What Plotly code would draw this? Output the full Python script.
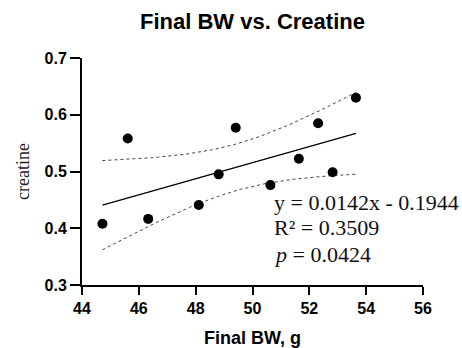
import numpy as np
import plotly.graph_objects as go

# Data
final_bw = [44.72, 45.61, 46.33, 48.11, 48.81, 49.41, 50.63, 51.63, 52.31, 52.82, 53.64]
creatine = [0.408, 0.558, 0.4165, 0.441, 0.495, 0.577, 0.476, 0.5225, 0.585, 0.4986, 0.630]
slope = 0.0142
intercept = -0.1944
r_squared = 0.3509
p_value = 0.0424
t_crit = 2.262  # 95% two-sided, df = 9
x_ticks = [44, 46, 48, 50, 52, 54, 56]
y_ticks = [0.3, 0.4, 0.5, 0.6, 0.7]

x = np.array(final_bw)
y = np.array(creatine)
n = len(x)
xs = np.linspace(x.min(), x.max(), 100)
fit = slope * xs + intercept
resid = y - (slope * x + intercept)
s = np.sqrt(np.sum(resid ** 2) / (n - 2))
sxx = np.sum((x - x.mean()) ** 2)
half = t_crit * s * np.sqrt(1 / n + (xs - x.mean()) ** 2 / sxx)

fig = go.Figure()
fig.add_trace(go.Scatter(x=xs, y=fit + half, mode="lines",
                         line=dict(color="#444444", width=1, dash="dot"), hoverinfo="skip"))
fig.add_trace(go.Scatter(x=xs, y=fit - half, mode="lines",
                         line=dict(color="#444444", width=1, dash="dot"), hoverinfo="skip"))
fig.add_trace(go.Scatter(x=xs, y=fit, mode="lines",
                         line=dict(color="black", width=1.3)))
fig.add_trace(go.Scatter(x=final_bw, y=creatine, mode="markers",
                         marker=dict(color="black", size=10)))

serif = "Liberation Serif, Times New Roman, serif"
sans = "Liberation Sans, Arial, sans-serif"

lines = [
    (f"y = {slope}x - {abs(intercept)}", 0.4455),
    (f"R² = {r_squared}", 0.4007),
    (f"<i>p</i> = {p_value}", 0.3545),
]
for txt, yy in lines:
    fig.add_annotation(x=50.70, y=yy, xref="x", yref="y", text=txt, showarrow=False,
                       xanchor="left", yanchor="middle",
                       font=dict(family=serif, size=22, color="#111111"))

fig.update_layout(
    width=462, height=348,
    margin=dict(l=82, r=39, t=58, b=63),
    paper_bgcolor="white", plot_bgcolor="white",
    showlegend=False,
    title=dict(text="Final BW vs. Creatine", x=0.5, xref="paper", xanchor="center",
               y=1 - 21 / 348, yanchor="middle",
               font=dict(family=sans, size=22, color="black", weight="bold")),
    xaxis=dict(range=[44, 56], tickvals=x_ticks, ticktext=[str(v) for v in x_ticks],
               showline=True, linecolor="black", linewidth=2, mirror=False,
               ticks="outside", ticklen=8, tickwidth=2, tickcolor="black",
               showgrid=False, zeroline=False, automargin=False,
               tickfont=dict(family=sans, size=16, color="black", weight="bold"),
               title=dict(text="Final BW, g", standoff=16,
                          font=dict(family=sans, size=18, color="black", weight="bold"))),
    yaxis=dict(range=[0.3, 0.7], tickvals=y_ticks, ticktext=[f"{v:.1f}" for v in y_ticks],
               showline=True, linecolor="black", linewidth=2, mirror=False,
               ticks="outside", ticklen=10, tickwidth=2, tickcolor="black",
               showgrid=False, zeroline=False, automargin=False,
               tickfont=dict(family=sans, size=16, color="black", weight="bold"),
               title=dict(text="creatine", standoff=10,
                          font=dict(family=serif, size=18, color="#222222"))),
)

fig.write_html("out.html", config={"displayModeBar": False},
               post_script="document.body.style.margin='0';")
